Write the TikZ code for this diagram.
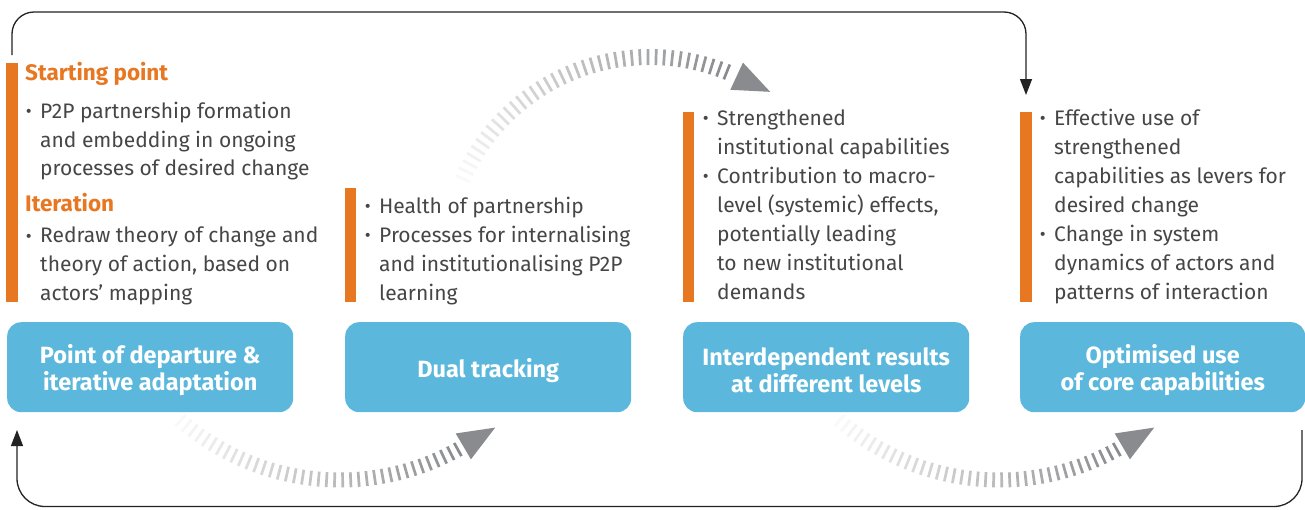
\documentclass[tikz,border=0pt]{standalone}
\usepackage{fontspec}
\setmainfont{Fira Sans}
\usetikzlibrary{arrows.meta}
\definecolor{boxblue}{RGB}{91,184,220}
\definecolor{barorange}{RGB}{232,119,34}
\definecolor{txtgray}{RGB}{70,70,70}
\definecolor{arcgray}{RGB}{138,139,142}
\definecolor{linedark}{RGB}{35,35,35}
\newcommand\bodyat[4]{\node[bodyline] (#1) at (#2,#3) {#4};}
\newcommand\headat[4]{\node[headline] (#1) at (#2,#3) {#4};}
\newcommand\bul{\makebox[0pt][r]{\raisebox{0.05ex}{\fontsize{18}{18}\selectfont\textbullet}\hspace{8.5pt}}}
\begin{document}
\begin{tikzpicture}[x=1pt,y=-1pt,
  titlebox/.style={fill=boxblue, rounded corners=14pt, draw=none, anchor=north west,
    minimum height=90pt, inner sep=0pt},
  titletext/.style={text=white, align=center, inner sep=0pt,
    font=\fontsize{23.5}{27}\selectfont\bfseries},
  bodyline/.style={anchor=base west, inner sep=0pt, text=txtgray, font=\fontsize{21}{29}\selectfont},
  headline/.style={anchor=base west, inner sep=0pt, text=barorange, font=\fontsize{22.5}{29}\selectfont\bfseries},
  bar/.style={fill=barorange, draw=none},
  conn/.style={draw=linedark, line width=1.3pt},
  tick/.style={line width=2.7pt},
]
\path[use as bounding box, fill=white] (0,0) rectangle (1305,509);

% orange bars
\fill[bar] (6,63) rectangle (18,302);
\fill[bar] (345,188) rectangle (356,302);
\fill[bar] (683,112) rectangle (694,302);
\fill[bar] (1020,112) rectangle (1032,302);

% title boxes
\node[titlebox, minimum width=286pt] (b1) at (7,322) {};
\node[titlebox, minimum width=286pt] (b2) at (345,322) {};
\node[titlebox, minimum width=286pt] (b3) at (683,322) {};
\node[titlebox, minimum width=285pt] (b4) at (1020,322) {};
\node[titletext] (t1) at ([yshift=-3pt]b1.center) {Point of departure \&\\iterative adaptation};
\node[titletext] (t2) at ([yshift=-3pt]b2.center) {Dual tracking};
\node[titletext] (t3) at ([yshift=-3pt]b3.center) {Interdependent results\\at different levels};
\node[titletext] (t4) at ([yshift=-3pt]b4.center) {Optimised use\\of core capabilities};

% panel 1
\headat{p1h1}{25}{80.7}{Starting point}
\bodyat{p1a}{40}{118.3}{\bul P2P partnership formation}
\bodyat{p1b}{40}{147.1}{and embedding in ongoing}
\bodyat{p1c}{40}{175.8}{processes of desired change}
\headat{p1h2}{25}{211}{Iteration}
\bodyat{p1d}{40}{242.7}{\bul Redraw theory of change and}
\bodyat{p1e}{40}{271.5}{theory of action, based on}
\bodyat{p1f}{40}{300}{actors’ mapping}

% panel 2
\bodyat{p2a}{379}{213}{\bul Health of partnership}
\bodyat{p2b}{379}{242}{\bul Processes for internalising}
\bodyat{p2c}{379}{271}{and institutionalising P2P}
\bodyat{p2d}{379}{300}{learning}

% panel 3
\bodyat{p3a}{717}{125}{\bul Strengthened}
\bodyat{p3b}{717}{154}{institutional capabilities}
\bodyat{p3c}{717}{183}{\bul Contribution to macro-}
\bodyat{p3d}{717}{212}{level (systemic) effects,}
\bodyat{p3e}{717}{241}{potentially leading}
\bodyat{p3f}{717}{270}{to new institutional}
\bodyat{p3g}{717}{299}{demands}

% panel 4
\bodyat{p4a}{1054}{125}{\bul Effective use of}
\bodyat{p4b}{1054}{154}{strengthened}
\bodyat{p4c}{1054}{183}{capabilities as levers for}
\bodyat{p4d}{1054}{212}{desired change}
\bodyat{p4e}{1054}{241}{\bul Change in system}
\bodyat{p4f}{1054}{270}{dynamics of actors and}
\bodyat{p4g}{1054}{299}{patterns of interaction}

% feedback connectors
\coordinate (topstart) at (12,55);
\coordinate (tl) at (12,12);
\coordinate (tr) at (1026,12);
\coordinate (topend) at (1026,95);
\draw[conn, rounded corners=22pt, -{Triangle[length=16pt,width=12pt]}]
  (topstart) -- (tl) -- (tr) -- (topend);

\coordinate (botstart) at (1302,430);
\coordinate (br) at (1302,506.5);
\coordinate (bl) at (17,506.5);
\coordinate (botend) at (17,430);
\draw[conn, rounded corners=28pt, -{Triangle[length=16pt,width=12pt]}]
  (botstart) -- (br) -- (bl) -- (botend);

% arc 1 (top): centre (650,262), R 205
\foreach \i in {0,...,39}{
  \pgfmathsetmacro\a{204+88*\i/39}
  \pgfmathtruncatemacro\t{5+95*\i/39}
  \draw[tick, draw=arcgray!\t!white] ({650+197*cos(\a)},{262+197*sin(\a)}) -- ({650+213*cos(\a)},{262+213*sin(\a)});
}
\fill[arcgray] ({650+190*cos(295)},{262+190*sin(295)}) -- ({650+220*cos(295)},{262+220*sin(295)})
  -- ({650+205*cos(295)-37*sin(295)},{262+205*sin(295)+37*cos(295)}) -- cycle;

% arcs 2 and 3 (bottom): centre (cx,237), R 243
\foreach \cx in {340,999}{
  \foreach \i in {0,...,37}{
    \pgfmathsetmacro\a{131-70*\i/37}
    \pgfmathtruncatemacro\t{5+95*\i/37}
    \draw[tick, draw=arcgray!\t!white] ({\cx+235.5*cos(\a)},{237+235.5*sin(\a)}) -- ({\cx+250.5*cos(\a)},{237+250.5*sin(\a)});
  }
  \fill[arcgray] ({\cx+228*cos(59.5)},{237+228*sin(59.5)}) -- ({\cx+258*cos(59.5)},{237+258*sin(59.5)})
    -- ({\cx+243*cos(59.5)+37*sin(59.5)},{237+243*sin(59.5)-37*cos(59.5)}) -- cycle;
}
\end{tikzpicture}
\end{document}
